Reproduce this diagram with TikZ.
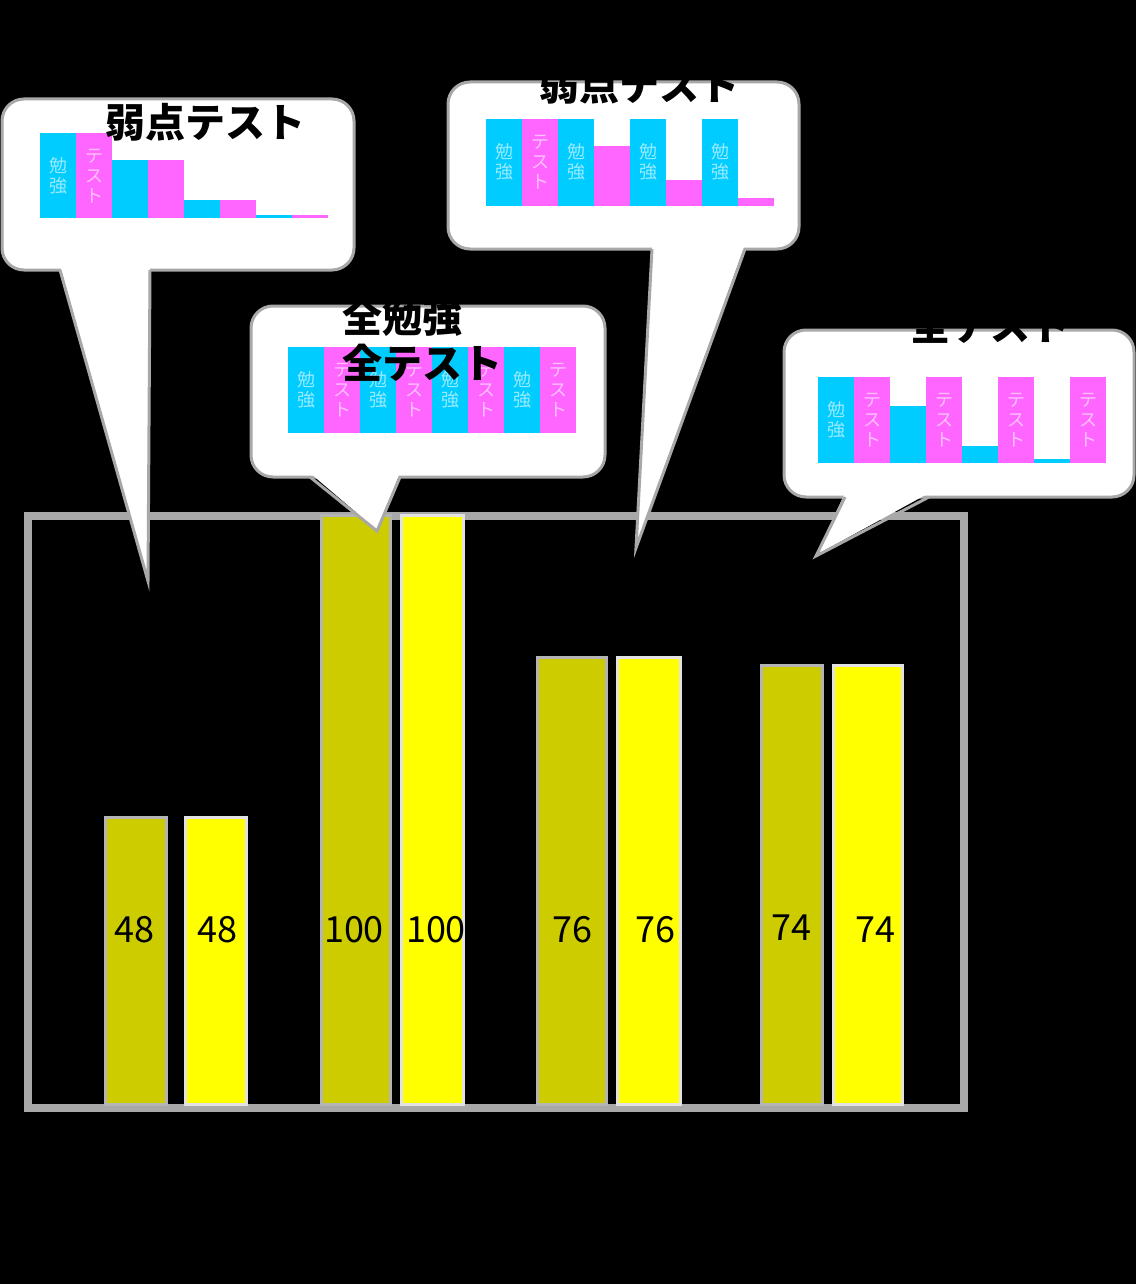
\documentclass[tikz,border=0pt]{standalone}
\usepackage{fontspec}
\newfontfamily\cjk{Noto Sans CJK JP}
\definecolor{cyb}{RGB}{0,204,255}
\definecolor{pkb}{RGB}{255,102,255}
\definecolor{barolive}{RGB}{204,204,0}
\definecolor{baryel}{RGB}{255,255,0}
\definecolor{framegray}{RGB}{168,168,168}
\definecolor{edgedark}{RGB}{180,180,180}
\definecolor{edgelight}{RGB}{226,226,226}
\newcommand\minibar[4]{\fill[#4] (#1,#2) rectangle (#1+36,#3);}
\begin{document}
\begin{tikzpicture}[x=1pt,y=-1pt,
  callout/.style={fill=white,draw=framegray,line width=3pt,rounded corners=22pt},
  tailline/.style={draw=framegray,line width=3pt,line join=miter},
  darkbar/.style={fill=barolive,draw=edgedark,line width=3pt},
  yelbar/.style={fill=baryel,draw=edgelight,line width=3pt},
  val/.style={inner sep=0pt,font=\cjk\fontsize{36}{40}\selectfont,text=black},
  ttl/.style={inner sep=0pt,font=\cjk\bfseries\fontsize{40}{44}\selectfont,text=black},
  vlab/.style={inner sep=0pt,align=center,font=\cjk\fontsize{18}{20}\selectfont,text=white,text opacity=0.6}]
\useasboundingbox (0,0) rectangle (1136,1284);
\fill[black] (0,0) rectangle (1136,1284);
% chart frame
\draw[framegray,line width=8pt] (28,516) rectangle (964,1108);
% bars
\draw[darkbar] (105.5,817.5) rectangle (166.5,1104);
\draw[yelbar] (185.5,817.5) rectangle (246.5,1104);
\draw[darkbar] (321.5,515.5) rectangle (390.5,1104);
\draw[yelbar] (401.5,515.5) rectangle (463.5,1104);
\draw[darkbar] (537.5,657.5) rectangle (606.5,1104);
\draw[yelbar] (617.5,657.5) rectangle (680,1104);
\draw[darkbar] (761.5,665.5) rectangle (822.5,1104);
\draw[yelbar] (833.5,665.5) rectangle (902.5,1104);
% values
\node[val] (v1) at (134,930) {48};
\node[val] (v2) at (217,930) {48};
\node[val] (v3) at (354,930) {100};
\node[val] (v4) at (436,930) {100};
\node[val] (v5) at (572,930) {76};
\node[val] (v6) at (655,930) {76};
\node[val] (v7) at (791,928) {74};
\node[val] (v8) at (875,930) {74};
% ---- callout 1
\draw[callout] (2,99) rectangle (354,270);
\fill[white] (60,266) -- (148,580) -- (150,266) -- cycle;
\draw[tailline] (60,270) -- (148,581) -- (150,270);
\minibar{40}{133}{218}{cyb}\minibar{76}{133}{218}{pkb}
\minibar{112}{160}{218}{cyb}\minibar{148}{160}{218}{pkb}
\minibar{184}{200}{218}{cyb}\minibar{220}{200}{218}{pkb}
\minibar{256}{215}{218}{cyb}\minibar{292}{215}{218}{pkb}
\node[vlab] (a1) at (58,176) {勉\\強};
\node[vlab] (a2) at (94,176) {テ\\ス\\ト};
\node[ttl] (t1) at (205,122) {弱点テスト};
% ---- callout 2
\draw[callout] (251,306) rectangle (605,477);
\fill[white] (310,473) -- (377,530) -- (400,473) -- cycle;
\draw[tailline] (310,477) -- (377,531) -- (400,477);
\minibar{288}{347}{433}{cyb}\minibar{324}{347}{433}{pkb}
\minibar{360}{347}{433}{cyb}\minibar{396}{347}{433}{pkb}
\minibar{432}{347}{433}{cyb}\minibar{468}{347}{433}{pkb}
\minibar{504}{347}{433}{cyb}\minibar{540}{347}{433}{pkb}
\node[vlab] (b1) at (306,390) {勉\\強};
\node[vlab] (b2) at (342,390) {テ\\ス\\ト};
\node[vlab] (b3) at (378,390) {勉\\強};
\node[vlab] (b4) at (414,390) {テ\\ス\\ト};
\node[vlab] (b5) at (450,390) {勉\\強};
\node[vlab] (b6) at (486,390) {テ\\ス\\ト};
\node[vlab] (b7) at (522,390) {勉\\強};
\node[vlab] (b8) at (558,390) {テ\\ス\\ト};
\node[ttl,anchor=west] (t2a) at (342,317) {全勉強};
\node[ttl,anchor=west] (t2b) at (342,363) {全テスト};
% ---- callout 3
\draw[callout] (448,82) rectangle (799,249);
\fill[white] (652,245) -- (636,547) -- (745,245) -- cycle;
\draw[tailline] (652,249) -- (636,548) -- (745,249);
\minibar{486}{119}{206}{cyb}\minibar{522}{119}{206}{pkb}
\minibar{558}{119}{206}{cyb}\minibar{594}{146}{206}{pkb}
\minibar{630}{119}{206}{cyb}\minibar{666}{180}{206}{pkb}
\minibar{702}{119}{206}{cyb}\minibar{738}{198}{206}{pkb}
\node[vlab] (c1) at (504,162) {勉\\強};
\node[vlab] (c2) at (540,162) {テ\\ス\\ト};
\node[vlab] (c3) at (576,162) {勉\\強};
\node[vlab] (c5) at (648,162) {勉\\強};
\node[vlab] (c7) at (720,162) {勉\\強};
\node[ttl] (t3) at (639,85) {弱点テスト};
% ---- callout 4
\draw[callout] (784,330) rectangle (1134,497);
\fill[white] (845,493) -- (816,555) -- (929,493) -- cycle;
\draw[tailline] (845,497) -- (816,556) -- (929,497);
\minibar{818}{377}{463}{cyb}\minibar{854}{377}{463}{pkb}
\minibar{890}{406}{463}{cyb}\minibar{926}{377}{463}{pkb}
\minibar{962}{446}{463}{cyb}\minibar{998}{377}{463}{pkb}
\minibar{1034}{459}{463}{cyb}\minibar{1070}{377}{463}{pkb}
\node[vlab] (d1) at (836,420) {勉\\強};
\node[vlab] (d2) at (872,420) {テ\\ス\\ト};
\node[vlab] (d4) at (944,420) {テ\\ス\\ト};
\node[vlab] (d6) at (1016,420) {テ\\ス\\ト};
\node[vlab] (d8) at (1088,420) {テ\\ス\\ト};
\node[ttl] (t4) at (990,325) {全テスト};
\end{tikzpicture}
\end{document}
